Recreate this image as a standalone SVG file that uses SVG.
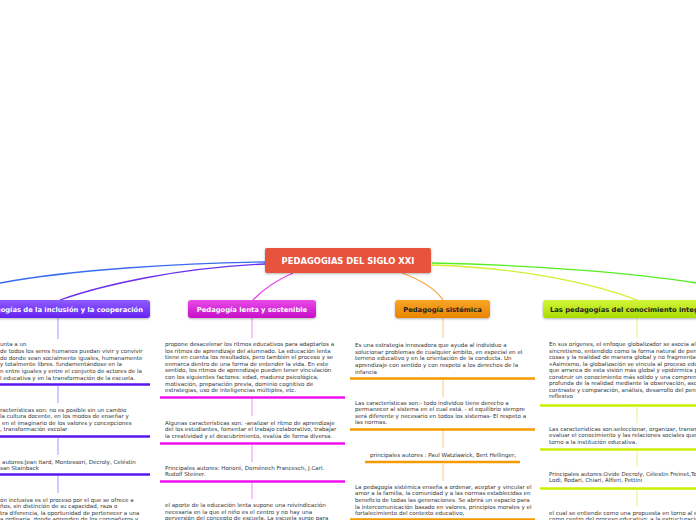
<svg xmlns="http://www.w3.org/2000/svg" width="696" height="520" viewBox="0 0 696 520">
<defs>
<linearGradient id="gPur" x1="0" y1="0" x2="0" y2="1"><stop offset="0" stop-color="#8f5cff"/><stop offset="1" stop-color="#6322f0"/></linearGradient>
<linearGradient id="gMag" x1="0" y1="0" x2="0" y2="1"><stop offset="0" stop-color="#e84ae8"/><stop offset="1" stop-color="#c710c7"/></linearGradient>
<linearGradient id="gOra" x1="0" y1="0" x2="0" y2="1"><stop offset="0" stop-color="#f7a626"/><stop offset="1" stop-color="#e98400"/></linearGradient>
<linearGradient id="gGrn" x1="0" y1="0" x2="0" y2="1"><stop offset="0" stop-color="#d4f53a"/><stop offset="1" stop-color="#a8dc00"/></linearGradient>
<filter id="sh" x="-10%" y="-20%" width="120%" height="160%"><feDropShadow dx="0" dy="1" stdDeviation="0.8" flood-color="#000" flood-opacity="0.3"/></filter>
</defs>
<style>
.t{font-family:"DejaVu Sans",Verdana,sans-serif;font-size:5.55px;fill:#333}
.n{font-family:"DejaVu Sans",Verdana,sans-serif;font-size:6.75px;font-weight:bold}
.c{fill:none;stroke-width:1.3}
.v{stroke-width:1}
.u{stroke-width:2.5}
</style>
<rect width="696" height="520" fill="#ffffff"/>
<g id="connectors">
<path class="c" d="M265,262 C180,263 70,270 0,283" stroke="#3a6cf2"/>
<path class="c" d="M265,264 C180,268 105,284 60,300" stroke="#6a30f0"/>
<path class="c" d="M293,273 Q268,284 253,300" stroke="#ee44ee"/>
<path class="c" d="M402,273 Q432,284 443,300" stroke="#f5a640"/>
<path class="c" d="M432,265 C525,268 595,284 637,300" stroke="#d4ef30"/>
<path class="c" d="M432,263 C540,265 640,274 696,283" stroke="#55ee22"/>
<g stroke="#b48cff" class="v">
<line x1="58" y1="318" x2="58" y2="339"/><line x1="58" y1="386" x2="58" y2="403"/><line x1="58" y1="438" x2="58" y2="455"/><line x1="58" y1="476" x2="58" y2="493"/>
</g>
<g stroke="#f08cf0" class="v">
<line x1="252" y1="318" x2="252" y2="338"/><line x1="252" y1="399" x2="252" y2="416"/><line x1="252" y1="445" x2="252" y2="462"/><line x1="252" y1="483" x2="252" y2="499"/>
</g>
<g stroke="#f8c880" class="v">
<line x1="443" y1="318" x2="443" y2="338"/><line x1="443" y1="380" x2="443" y2="397"/><line x1="443" y1="431" x2="443" y2="448"/><line x1="443" y1="464" x2="443" y2="481"/>
</g>
<g stroke="#e4f580" class="v">
<line x1="637" y1="318" x2="637" y2="338"/><line x1="637" y1="407" x2="637" y2="423"/><line x1="637" y1="451" x2="637" y2="467"/><line x1="637" y1="490" x2="637" y2="506"/>
</g>
</g>
<g id="root">
<rect x="265" y="248" width="166" height="25" rx="2" fill="#e8533c" filter="url(#sh)"/>
<text x="348" y="264" text-anchor="middle" font-family="'DejaVu Sans',Verdana,sans-serif" font-size="8.4" font-weight="bold" fill="#fff">PEDAGOGIAS DEL SIGLO XXI</text>
</g>
<g id="inclusion">
<rect x="-40" y="300" width="190" height="18" rx="3" fill="url(#gPur)" filter="url(#sh)"/>
<text class="n" x="143" y="311.5" text-anchor="end" fill="#fff">Las pedagogías de la inclusión y la cooperación</text>
<g class="t">
<text x="0" y="346">unta a un</text>
<text x="0" y="352.8">de todos los seres humanos puedan vivir y convivir</text>
<text x="0" y="359.6">do donde sean socialmente iguales, humanamente</text>
<text x="0" y="366.4">y totalmente libres. fundamentándose en la</text>
<text x="0" y="373.2">n entre iguales y entre el conjunto de actores de la</text>
<text x="0" y="380">l educativa y en la transformación de la escuela.</text>
<text x="0" y="411.8">racterísticas son: no es posible sin un cambio</text>
<text x="0" y="418.3">la cultura docente, en los modos de enseñar y</text>
<text x="2" y="424.8">en el imaginario de los valores y concepciones</text>
<text x="0" y="431.3">, transformación escolar</text>
<text x="2" y="463.5">autores:Jean Itard, Montessori, Decroly, Celéstin</text>
<text x="0" y="470">san Stainback</text>
<text x="0" y="501.5">ón inclusiva es el proceso por el que se ofrece a</text>
<text x="0" y="508">ños, sin distinción de su capacidad, raza o</text>
<text x="0" y="514.5">tra diferencia, la oportunidad de pertenecer a una</text>
<text x="0" y="521">a ordinaria, donde aprenden de los compañeros y</text>
</g>
<g stroke="#5a16ee" class="u">
<line x1="0" y1="384.5" x2="150" y2="384.5"/><line x1="0" y1="436.5" x2="150" y2="436.5"/><line x1="0" y1="474.5" x2="150" y2="474.5"/>
</g>
</g>
<g id="lenta">
<rect x="188" y="300" width="128" height="18" rx="3" fill="url(#gMag)" filter="url(#sh)"/>
<text class="n" x="252" y="311.5" text-anchor="middle" fill="#fff">Pedagogía lenta y sostenible</text>
<g class="t">
<text x="165" y="346">propone desacelerar los ritmos educativos para adaptarlos a</text>
<text x="165" y="352.6">los ritmos de aprendizaje del alumnado. La educación lenta</text>
<text x="165" y="359.2">tiene en cuenta los resultados, pero también el proceso y se</text>
<text x="165" y="365.8">enmarca dentro de una forma de entender la vida. En este</text>
<text x="165" y="372.4">sentido, los ritmos de aprendizaje pueden tener vinculación</text>
<text x="165" y="379">con los siguientes factores: edad, madurez psicológica,</text>
<text x="165" y="385.6">motivación, preparación previa, dominio cognitivo de</text>
<text x="165" y="392.2">estrategias, uso de inteligencias múltiples, etc.</text>
<text x="165" y="424.8">Algunas características son: -analizar el ritmo de aprendizaje</text>
<text x="165" y="431.4">del los estudiantes, fomentar el trabajo colaborativo, trabajar</text>
<text x="165" y="438">la creatividad y el descubrimiento, evalúa de forma diversa.</text>
<text x="165" y="469.8">Principales autores: Honoré,  Doménech Francesch, J.Carl.</text>
<text x="165" y="476.4">Rudolf Steiner.</text>
<text x="165" y="507">el aporte de la educación lenta supone una reivindicación</text>
<text x="165" y="513.6">necesaria en la que el niño es el centro y no hay una</text>
<text x="165" y="520.2">perversión del concepto de escuela. La escuela surge para</text>
</g>
<g stroke="#ee11ee" class="u">
<line x1="160" y1="397.5" x2="345" y2="397.5"/><line x1="160" y1="443.5" x2="345" y2="443.5"/><line x1="160" y1="481.5" x2="345" y2="481.5"/>
</g>
</g>
<g id="sistemica">
<rect x="395" y="300" width="95" height="18" rx="3" fill="url(#gOra)" filter="url(#sh)"/>
<text class="n" x="442.5" y="311.5" text-anchor="middle" fill="#222">Pedagogía sistémica</text>
<g class="t">
<text x="355" y="346.8">Es una estrategia innovadora que ayuda al individuo a</text>
<text x="355" y="353.5">solucionar problemas de cualquier ámbito, en especial en el</text>
<text x="355" y="360.2">terreno educativo y en la orientación de la conducta. Un</text>
<text x="355" y="366.9">aprendizaje con sentido y con respeto a los derechos de la</text>
<text x="355" y="373.6">infancia</text>
<text x="355" y="404.6">Las características son:-  todo individuo tiene derecho a</text>
<text x="355" y="411.2">permanecer al sistema en el cual está. - el equilibrio siempre</text>
<text x="355" y="417.8">será diferente y necesario en todos los sistemas- El respeto a</text>
<text x="355" y="424.4">las normas.</text>
<text x="443" y="456.8" text-anchor="middle">principales autores : Paul Watzlawick, Bert Hellinger,</text>
<text x="355" y="488.8">La pedagogía sistémica enseña a ordenar, aceptar y vincular el</text>
<text x="355" y="495.4">amor a la familia, la comunidad y a las normas establecidas en</text>
<text x="355" y="502">beneficio de todas las generaciones. Se abrirá un espacio para</text>
<text x="355" y="508.6">la intercomunicación basado en valores, principios morales y el</text>
<text x="355" y="515.2">fortalecimiento del contexto educativo,</text>
</g>
<g stroke="#f59a00" class="u">
<line x1="350" y1="378.5" x2="535" y2="378.5"/><line x1="350" y1="429.5" x2="535" y2="429.5"/><line x1="365" y1="462" x2="520" y2="462"/><line x1="350" y1="519.5" x2="535" y2="519.5"/>
</g>
</g>
<g id="integrado">
<rect x="543" y="300" width="170" height="18" rx="3" fill="url(#gGrn)" filter="url(#sh)"/>
<text class="n" x="550" y="311.5" fill="#222">Las pedagogías del conocimiento integrado</text>
<g class="t">
<text x="549" y="346">En sus orígenes, el enfoque globalizador se asocia al</text>
<text x="549" y="352.5">sincretismo, entendido como la forma natural de pensar las</text>
<text x="549" y="359">cosas y la realidad de manera global y no fragmentada.</text>
<text x="549" y="365.5">«Asimismo, la globalización se vincula al proceso educativo</text>
<text x="549" y="372">que arranca de esta visión más global y epidérmica para</text>
<text x="549" y="378.5">construir un conocimiento más sólido y una comprensión</text>
<text x="549" y="385">profunda de la realidad mediante la observación, asociación,</text>
<text x="549" y="391.5">contraste y comparación, análisis, desarrollo del pensamiento</text>
<text x="549" y="398">reflexivo</text>
<text x="549" y="430.5">Las características son:seleccionar, organizar, transmitir y</text>
<text x="549" y="437">evaluar el conocimiento y las relaciones sociales que se dan en</text>
<text x="549" y="443.5">torno a la institución educativa.</text>
<text x="549" y="475.8">Principales autores:Ovide Decroly, Célestin Freinet,Tonucci,</text>
<text x="549" y="482.3">Lodi, Rodari, Chiari, Alfieri, Pettini</text>
<text x="549" y="514.8">el cual se entiende como una propuesta en torno al estudiante</text>
<text x="549" y="521.3">como centro del proceso educativo; a la estructuración</text>
</g>
<g stroke="#ccee00" class="u">
<line x1="540" y1="405.5" x2="696" y2="405.5"/><line x1="540" y1="449.5" x2="696" y2="449.5"/><line x1="540" y1="488.5" x2="696" y2="488.5"/>
</g>
</g>
</svg>
